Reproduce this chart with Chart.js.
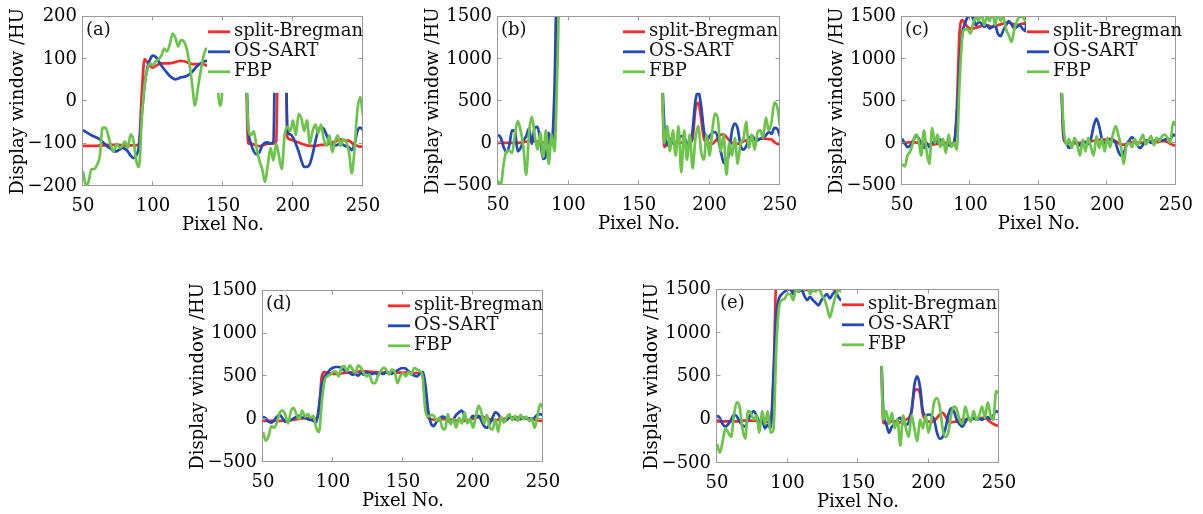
<!DOCTYPE html>
<html><head><meta charset="utf-8">
<script src="https://cdn.jsdelivr.net/npm/chart.js@4.4.0/dist/chart.umd.min.js"></script>
<style>
html,body{margin:0;padding:0;background:#fff;width:1203px;height:514px;overflow:hidden;position:relative}
canvas{position:absolute}
</style></head><body>
<canvas id="ca" width="400" height="240" style="left:0px;top:0px"></canvas>
<canvas id="cb" width="400" height="240" style="left:415px;top:0px"></canvas>
<canvas id="cc" width="384" height="240" style="left:819px;top:0px"></canvas>
<canvas id="cd" width="400" height="240" style="left:180px;top:274px"></canvas>
<canvas id="ce" width="400" height="241" style="left:634px;top:273px"></canvas>
<script>
// ---------- data ----------
const seriesNames = ['split-Bregman', 'OS-SART', 'FBP'];
const pixelNo = [50,52,54,56,58,60,62,64,66,68,70,72,74,76,78,80,82,84,86,88,
  90,92,94,96,98,100,102,104,106,108,110,112,114,116,118,120,122,124,126,128,130,132,134,136,138,140,
  142,144,146,148,150,152,154,156,158,160,162,164,
  166,168,170,172,174,176,178,180,182,184,186,188,190,192,194,196,198,200,202,204,206,208,210,212,214,216,218,220,222,224,226,228,230,232,234,236,238,240,242,244,246,248,250];
const xTicks = [50, 100, 150, 200, 250];
const yTicksA = [-200, -100, 0, 100, 200];
const yTicksB = [-500, 0, 500, 1000, 1500];

// (a)
const aRed = [-105,-105,-105,-105,-105,-105,-104,-104,-104,-103,-103,-103,-103,-103,-104,-104,-104,-104,-104,-104,
  -100,20,100,92,83,80,84,88,90,90,90,90,91,93,95,96,95,93,90,88,88,88,89,88,85,84,
  300,300,300,300,300,300,300,300,300,300,300,300,
  150,-100,-100,-102,-105,-106,-104,-102,-100,-100,-100,-95,300,300,300,-85,-90,
  -92,-95,-97,-100,-102,-104,-105,-105,-105,-104,-103,-103,-102,-100,-97,-95,-92,-90,-92,-92,-93,-98,-103,-105,-107,-107];
const aBlue = [-68,-72,-76,-80,-83,-86,-90,-96,-102,-108,-112,-118,-118,-114,-110,-112,-118,-128,-134,-128,
  -105,-30,40,80,100,108,105,95,85,76,68,60,55,52,54,57,58,60,64,70,78,85,90,94,96,95,
  300,300,300,300,300,300,300,300,300,300,300,300,
  150,-60,-100,-118,-125,-120,-105,-98,-97,-100,-95,300,300,300,300,-70,-78,
  -85,-100,-118,-140,-155,-155,-148,-125,-95,-68,-62,-65,-80,-97,-103,-104,-102,-100,-103,-106,-108,-115,-100,-70,-62,-68];
const aGreen = [-165,-198,-190,-160,-160,-150,-130,-62,-62,-80,-105,-118,-100,-110,-105,-95,-110,-78,-92,-140,
  -155,-40,40,75,90,85,95,100,108,125,118,135,160,150,130,145,142,125,90,40,-10,30,70,105,125,115,
  300,300,60,-10,60,300,300,300,300,300,300,300,
  150,-60,-80,-70,-110,-140,-160,-190,-150,-110,-140,-100,-130,-160,-80,-60,-70,
  -45,-80,-30,-40,-70,-45,-100,-70,-55,-75,-55,-90,-105,-80,-120,-95,-80,-105,-90,-95,-120,-170,-110,-20,10,-35];

// (b)
const bRed = [0,0,0,0,0,0,0,0,5,10,15,20,20,20,15,10,5,0,0,0,
  50,2000,2000,2000,2000,2000,2000,2000,2000,2000,2000,2000,2000,2000,2000,2000,2000,2000,2000,2000,2000,2000,2000,2000,2000,2000,
  2000,2000,2000,2000,2000,2000,2000,2000,2000,2000,2000,2000,
  1000,-50,-10,0,0,5,5,5,0,0,5,50,400,480,300,50,10,
  0,-10,20,60,100,100,70,30,0,-10,-10,0,20,30,40,40,40,45,50,50,50,45,40,10,-10,-20];
const bBlue = [100,60,-50,-110,-30,150,140,-100,-60,30,80,170,-10,180,190,20,-190,-150,120,-20,
  600,2000,2000,2000,2000,2000,2000,2000,2000,2000,2000,2000,2000,2000,2000,2000,2000,2000,2000,2000,2000,2000,2000,2000,2000,2000,
  2000,2000,2000,2000,2000,2000,2000,2000,2000,2000,2000,2000,
  1000,200,-30,50,0,-30,40,80,60,0,-30,150,500,610,450,150,20,
  80,120,130,60,-100,-230,-250,-100,150,230,170,-30,-80,-40,40,90,40,30,50,60,90,130,110,180,170,80];
const bGreen = [-450,-500,-250,-100,-90,-120,100,260,150,-50,-380,120,310,100,-80,120,-170,150,-250,100,
  -100,800,2000,2000,2000,2000,2000,2000,2000,2000,2000,2000,2000,2000,2000,2000,2000,2000,2000,2000,2000,2000,2000,2000,2000,2000,
  2000,2000,2000,2000,2000,2000,2000,2000,2000,2000,2000,2000,
  1000,0,200,-100,150,-150,200,-350,150,-200,100,-300,50,200,-100,-200,100,
  -150,150,350,280,-100,100,-380,0,-150,60,-250,0,50,250,-60,100,-80,120,150,60,300,150,250,480,430,200];

// (c)
const cRed = [0,0,5,10,10,5,0,-5,-10,-15,-20,-20,-15,-10,-5,0,0,-5,-10,-10,
  400,1300,1460,1420,1380,1360,1360,1370,1380,1390,1400,1400,1390,1380,1390,1400,1410,1420,1430,1430,1420,1410,1400,1410,1420,1420,
  1600,1600,1600,1600,1600,1600,1600,1600,1600,1600,1600,1600,
  900,50,0,0,-5,-5,0,0,5,10,15,20,25,30,35,40,40,
  45,50,40,20,0,-20,-20,-10,0,10,10,5,0,5,15,20,20,15,10,15,20,20,10,-10,-25,-30];
const cBlue = [50,0,-50,-30,20,80,60,-10,-60,0,-50,10,0,30,40,-20,-10,-30,-20,10,
  300,900,1300,1420,1500,1530,1480,1400,1440,1420,1380,1400,1360,1380,1400,1300,1270,1340,1400,1450,1410,1360,1380,1400,1360,1330,
  1600,1600,1600,1600,1600,1600,1600,1600,1600,1600,1600,1600,
  900,100,0,-60,-20,20,0,-30,20,10,-10,50,200,290,200,50,0,
  20,40,30,0,-100,-150,-120,-20,30,70,30,-30,-60,-20,30,20,0,20,40,40,30,40,50,40,100,80];
const cGreen = [-250,-280,-150,-100,0,100,50,-150,150,-100,-250,180,0,100,-50,50,-120,100,-50,0,
  -80,700,1250,1350,1350,1300,1420,1500,1450,1550,1400,1500,1450,1550,1400,1550,1450,1500,1350,1280,1200,1350,1450,1500,1500,1450,
  1500,1550,1600,1600,1600,1600,1600,1600,1600,1600,1600,1600,
  900,200,-20,50,-60,60,-20,-150,40,-100,60,-50,-150,80,-60,50,-100,
  60,-50,100,200,100,-50,-250,-20,0,-50,50,-30,30,100,-20,30,80,-30,60,20,80,100,60,0,250,200];

// (d)
const dRed = [-20,-20,-20,-20,-20,-20,-20,-18,-15,-12,-10,-5,0,5,10,10,10,10,5,5,
  100,500,550,545,535,530,530,530,535,540,545,545,550,552,555,558,560,558,555,552,550,548,546,545,545,545,
  545,545,545,545,545,545,543,542,540,540,540,520,
  150,20,0,-5,-10,-5,0,0,0,-5,-10,-15,-15,-20,-20,-15,-5,
  5,15,25,30,25,15,0,-10,-10,-5,0,5,10,15,20,20,20,20,15,10,5,0,-5,-15,-20,-20];
const dBlue = [30,10,-30,-40,-10,30,50,10,-30,-20,-10,10,30,40,20,20,0,-10,-20,-40,
  150,400,500,540,580,600,610,610,600,570,560,540,520,530,510,540,520,550,540,530,540,520,540,530,550,540,
  530,550,570,590,600,590,560,530,510,500,530,550,
  400,100,-50,-80,-30,0,30,20,-20,-30,0,50,80,100,40,-20,0,
  40,20,40,-20,-80,-100,-50,20,80,60,0,-20,-10,20,20,0,10,0,20,10,10,0,20,50,60,40];
const dGreen = [-150,-250,-200,-80,-100,-40,80,100,50,-50,100,130,50,0,100,30,60,20,40,-100,
  -150,200,450,500,520,550,560,500,600,620,560,630,580,540,630,600,540,500,520,430,420,500,560,600,580,520,
  580,560,420,500,540,500,550,520,600,580,560,500,
  100,30,50,40,-20,20,-100,-120,60,-60,0,-100,20,-50,80,-50,0,
  -100,30,160,80,-50,50,-100,-120,0,-150,30,-40,20,60,-10,40,-20,50,0,30,-20,10,-100,30,180,130];

// (e)
const eRed = [-20,-20,-20,-20,-20,-20,-20,-20,-15,-10,-10,-10,-10,-10,-15,-20,-20,-20,-25,-25,
  400,1560,1560,1550,1540,1520,1510,1495,1492,1490,1492,1495,1500,1497,1493,1495,1505,1520,1530,1530,1520,1510,1500,1500,1505,1500,
  1495,1495,1493,1495,1490,1495,1493,1495,1490,1495,1493,1495,
  1000,-40,-40,-30,-20,-20,-30,-30,-20,0,20,100,330,350,300,60,0,
  -20,-30,-10,20,60,80,40,-20,-30,-25,-20,-10,0,0,5,5,10,15,15,20,20,0,-30,-50,-65,-70];
const eBlue = [50,20,-50,-80,-50,0,60,40,-20,-60,-80,0,60,100,50,-20,0,-100,-60,-100,
  500,1200,1400,1450,1480,1500,1510,1450,1500,1480,1500,1430,1380,1420,1380,1350,1320,1380,1420,1450,1400,1450,1480,1420,1380,1420,
  1400,1400,1400,1400,1400,1400,1400,1400,1400,1400,1400,1400,
  1000,100,-50,-150,-80,-50,0,20,-30,-60,-30,100,400,500,380,100,50,
  60,50,0,-150,-220,-200,-100,50,130,100,0,-50,-80,-30,20,0,20,0,10,0,20,30,10,50,100,80];
const eGreen = [-280,-380,-250,-100,-150,-200,50,200,150,-100,-220,100,80,0,50,-150,100,-50,100,-150,
  -120,800,1300,1380,1400,1450,1450,1380,1500,1480,1550,1500,1550,1450,1500,1480,1550,1450,1400,1300,1180,1300,1420,1500,1480,1520,
  1490,1492,1495,1490,1492,1494,1495,1490,1492,1495,1490,1494,
  1000,0,100,-50,80,-100,0,-300,50,-100,-200,50,-100,-250,0,-100,50,
  -150,0,200,250,150,-100,-200,-150,50,150,120,0,-50,150,40,-20,100,0,50,150,20,200,50,0,330,300];

// ---------- styling ----------
const FONT = "'DejaVu Serif', serif";
Chart.defaults.font.family = FONT;
Chart.defaults.font.size = 18;
Chart.defaults.color = '#000';
const colors = ['#f52a2a', '#2448b5', '#6cc54a'];

const framePlugin = {
  id: 'frameLegend',
  afterDatasetsDraw(chart, args, opts) {
    const ctx = chart.ctx, ca = chart.chartArea;
    ctx.save();
    // opaque legend box (covers the curves behind it)
    const bx = ca.left + opts.legendLeft - 1;
    ctx.fillStyle = '#ffffff';
    ctx.fillRect(bx, ca.top, ca.right - bx, 76);
    // frame
    ctx.strokeStyle = '#9a9a9a';
    ctx.lineWidth = 1;
    const l = Math.round(ca.left) - 0.5, t = Math.round(ca.top) - 0.5;
    const r = Math.round(ca.right) - 0.5, b = Math.round(ca.bottom) - 0.5;
    ctx.strokeRect(l, t, r - l, b - t);
    // inward ticks
    ctx.beginPath();
    const xs = chart.scales.x, ys = chart.scales.y;
    xTicks.forEach(v => {
      const p = Math.round(xs.getPixelForValue(v)) - 0.5;
      ctx.moveTo(p, b); ctx.lineTo(p, b - 4);
      ctx.moveTo(p, t); ctx.lineTo(p, t + 4);
    });
    opts.yTicks.forEach(v => {
      const p = Math.round(ys.getPixelForValue(v)) - 0.5;
      ctx.moveTo(l, p); ctx.lineTo(l + 4, p);
      ctx.moveTo(r, p); ctx.lineTo(r - 4, p);
    });
    ctx.stroke();
    // legend entries
    ctx.font = '18px ' + FONT;
    ctx.textBaseline = 'middle';
    ctx.textAlign = 'left';
    const sx = ca.left + opts.legendLeft;
    chart.data.datasets.forEach((ds, i) => {
      const y = ca.top + 15 + 20 * i;
      ctx.strokeStyle = ds.borderColor;
      ctx.lineWidth = 2.8;
      ctx.beginPath(); ctx.moveTo(sx, y); ctx.lineTo(sx + 22, y); ctx.stroke();
      ctx.fillStyle = '#111';
      ctx.fillText(ds.label, sx + 26, y);
    });
    // panel tag
    ctx.fillStyle = '#111';
    ctx.fillText(opts.tag, ca.left + 3, ca.top + 14);
    ctx.restore();
  }
};

function panel(id, tag, reds, blues, greens, yMin, yMax, yStep, yTicks, pw, ph) {
  const cv = document.getElementById(id);
  const W = cv.width, H = cv.height;
  const series = [reds, blues, greens];
  new Chart(cv, {
    type: 'line',
    data: {
      datasets: series.map((ys, k) => ({
        label: seriesNames[k],
        data: pixelNo.map((x, i) => ({x: x, y: ys[i]})),
        borderColor: colors[k],
        borderWidth: 2.7,
        pointRadius: 0,
        cubicInterpolationMode: 'monotone',
        clip: 0,
        order: 2 - k
      }))
    },
    options: {
      responsive: false, animation: false, devicePixelRatio: 1,
      events: [],
      layout: {padding: {left: 0, top: 13, right: W - 83 - pw, bottom: H - 13 - ph - 50}},
      plugins: {legend: {display: false}, tooltip: {enabled: false},
        frameLegend: {legendLeft: 125, yTicks: yTicks, tag: tag}},
      scales: {
        x: {type: 'linear', min: 50, max: 250,
          afterFit: s => { s.height = 50; },
          ticks: {stepSize: 50, padding: 10, maxRotation: 0, autoSkip: false, color: '#000'},
          grid: {display: false, drawTicks: false}, border: {display: false},
          title: {display: true, text: 'Pixel No.', color: '#000', padding: {top: 0, bottom: 0}}},
        y: {type: 'linear', min: yMin, max: yMax,
          afterFit: s => { s.width = 83; },
          ticks: {stepSize: yStep, padding: 6, autoSkip: false, color: '#000',
            callback: v => String(v).replace('-', '\u2212')},
          grid: {display: false, drawTicks: false}, border: {display: false},
          title: {display: true, text: 'Display window /HU', color: '#000', padding: {top: 8, bottom: 0}}}
      }
    },
    plugins: [framePlugin]
  });
}

panel('ca', '(a)', aRed, aBlue, aGreen, -200, 200, 100, yTicksA, 280, 173);
panel('cb', '(b)', bRed, bBlue, bGreen, -500, 1500, 500, yTicksB, 282, 172);
panel('cc', '(c)', cRed, cBlue, cGreen, -500, 1500, 500, yTicksB, 281, 172);
panel('cd', '(d)', dRed, dBlue, dGreen, -500, 1500, 500, yTicksB, 280, 175);
panel('ce', '(e)', eRed, eBlue, eGreen, -500, 1500, 500, yTicksB, 282, 177);
</script>
</body></html>
